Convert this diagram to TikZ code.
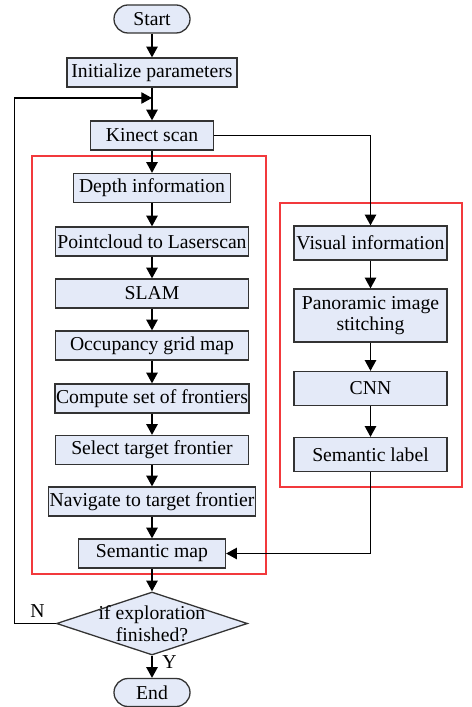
\documentclass[tikz,border=0pt]{standalone}
\usepackage{fontspec}
\setmainfont{Liberation Serif}
\usetikzlibrary{positioning,shapes.geometric,arrows.meta}

\definecolor{boxfill}{HTML}{E4EAF8}
\definecolor{boxline}{HTML}{333333}
\definecolor{framered}{HTML}{F2393C}

\tikzset{
	stepbox/.style={draw=boxline, fill=boxfill, line width=1.1pt, minimum height=0.87cm, inner sep=1pt, font=\fontsize{16.8}{18.5}\selectfont},
	sidebox/.style={stepbox, minimum width=4.59cm, minimum height=1.02cm, align=center},
	terminal/.style={stepbox, rounded corners=0.42cm, minimum width=2.28cm, minimum height=0.84cm},
	decision/.style={stepbox, diamond, align=center, minimum width=5.73cm, minimum height=1.89cm, inner xsep=-1cm, inner ysep=-0.45cm},
	flow/.style={draw=black, line width=1.1pt, -{Triangle[width=0.34cm,length=0.32cm]}},
	frame/.style={draw=framered, line width=1pt},
	tag/.style={font=\fontsize{16.8}{18.5}\selectfont},
}

\begin{document}
\begin{tikzpicture}[x=0.03cm, y=-0.03cm]
	\useasboundingbox[fill=white] (0,0) rectangle (471,707);
	%\draw[step=10,gray,very thin] (0,0) grid (471,707);

	% groups
	\draw[frame] (32,156) rectangle (266,574);
	\draw[frame] (280,203) rectangle (462,487);

	% main column
	\node[terminal] (start) at (152,19) {Start};
	\node[stepbox, minimum width=5.1cm] (init) at (152,72.5) {Initialize parameters};
	\node[stepbox, minimum width=3.69cm] (kinect) at (152,135.5) {Kinect scan};
	\node[stepbox, minimum width=4.71cm] (depth) at (152,188) {Depth information};
	\node[stepbox, minimum width=5.79cm] (cloud) at (152,241.5) {Pointcloud to Laserscan};
	\node[stepbox, minimum width=5.79cm] (slam) at (152,293.5) {SLAM};
	\node[stepbox, minimum width=5.79cm] (grid) at (152,345.5) {Occupancy grid map};
	\node[stepbox, minimum width=5.79cm] (front) at (152,398.5) {Compute set of frontiers};
	\node[stepbox, minimum width=5.79cm] (select) at (152,450) {Select target frontier};
	\node[stepbox, minimum width=6.15cm] (nav) at (152,501.5) {Navigate to target frontier};
	\node[stepbox, minimum width=4.41cm] (smap) at (152,553.5) {Semantic map};
	\node[decision] (done) at (152,623.5) {if exploration\\finished?};
	\node[terminal] (end) at (152,692.5) {End};

	% side column
	\node[sidebox] (visual) at (370.5,243) {Visual information};
	\node[sidebox, minimum height=1.59cm] (pano) at (370.5,315.5) {Panoramic image\\stitching};
	\node[sidebox] (cnn) at (370.5,388.5) {CNN};
	\node[sidebox] (label) at (370.5,454.5) {Semantic label};

	\coordinate (back) at (152,98);

	\draw[flow] (start) -- (init);
	\draw[flow] (init) -- (kinect);
	\draw[flow] (kinect) -- (depth);
	\draw[flow] (depth) -- (cloud);
	\draw[flow] (cloud) -- (slam);
	\draw[flow] (slam) -- (grid);
	\draw[flow] (grid) -- (front);
	\draw[flow] (front) -- (select);
	\draw[flow] (select) -- (nav);
	\draw[flow] (nav) -- (smap);
	\draw[flow] (smap) -- (done);
	\draw[flow] (done) -- (end) node[tag, pos=0.3, right=5pt] (yes) {Y};

	\draw[flow] (kinect.east) -| (visual);
	\draw[flow] (visual) -- (pano);
	\draw[flow] (pano) -- (cnn);
	\draw[flow] (cnn) -- (label);
	\draw[flow] (label) |- (smap);

	\draw[flow] (done.west) -- ++(-41,0) node[tag, pos=0.45, above=1pt] (no) {N} |- (back);
\end{tikzpicture}
\end{document}
